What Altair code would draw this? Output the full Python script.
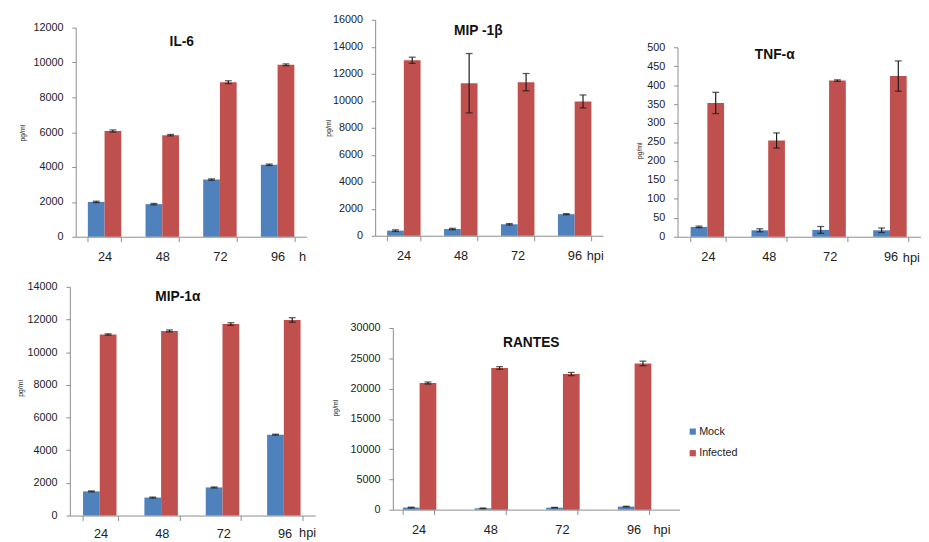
import altair as alt
import pandas as pd

TIMES = ["24", "48", "72", "96"]
GROUPS = ["Mock", "Infected"]
COLORS = ["#4F81BD", "#C0504D"]

# IL-6
il6_mock = [2000, 1870, 3280, 4130]
il6_mock_err = [40, 40, 40, 40]
il6_inf = [6070, 5830, 8870, 9870]
il6_inf_err = [60, 40, 80, 50]
# MIP-1beta
mip1b_mock = [380, 500, 850, 1600]
mip1b_mock_err = [60, 50, 50, 40]
mip1b_inf = [13000, 11300, 11380, 9950]
mip1b_inf_err = [230, 2200, 640, 480]
# TNF-alpha
tnf_mock = [26, 17, 18, 17]
tnf_mock_err = [2, 4, 9, 6]
tnf_inf = [353, 254, 412, 424]
tnf_inf_err = [28, 20, 2, 40]
# MIP-1alpha
mip1a_mock = [1480, 1100, 1720, 4950]
mip1a_mock_err = [30, 30, 30, 30]
mip1a_inf = [11080, 11300, 11720, 11970]
mip1a_inf_err = [40, 60, 80, 140]
# RANTES
rantes_mock = [350, 220, 330, 500]
rantes_mock_err = [60, 40, 50, 60]
rantes_inf = [20920, 23400, 22400, 24150]
rantes_inf_err = [170, 220, 260, 380]

FONT = "Liberation Sans"


def make_df(mock, mock_err, inf, inf_err):
    rows = []
    for i, t in enumerate(TIMES):
        rows.append(dict(time=t, group="Mock", value=mock[i],
                         lo=mock[i] - mock_err[i], hi=mock[i] + mock_err[i]))
        rows.append(dict(time=t, group="Infected", value=inf[i],
                         lo=inf[i] - inf_err[i], hi=inf[i] + inf_err[i]))
    return pd.DataFrame(rows)


def spacer(w, h):
    return alt.Chart(pd.DataFrame({"s": [0]})).mark_point(opacity=0, size=0).encode(
        x=alt.value(0), y=alt.value(0)
    ).properties(width=w, height=h)


LEGEND = alt.Legend(orient="none", legendX=692, legendY=421, symbolType="square",
                    symbolSize=40, symbolStrokeWidth=0, labelFont=FONT,
                    labelFontSize=11, labelColor="#222", rowPadding=10,
                    labelOffset=1, padding=0)


def panel(name, df, ymax, ystep, w, h, xscale, title_xy, ytitle_xy, suffix,
          suffix_xy, xlabel_pad):
    x_axis = alt.Axis(
        title=suffix, titleX=suffix_xy[0], titleY=suffix_xy[1], titleAlign="left",
        titleBaseline="middle", titleFontSize=13, titleFontWeight="normal",
        titleFont=FONT, titleColor="#222",
        labelAngle=0, labelFontSize=13, labelFont=FONT, labelColor="#222",
        labelPadding=xlabel_pad, tickBand="extent", tickSize=5,
        domainColor="#8c8c8c", tickColor="#8c8c8c",
    )
    y_axis = alt.Axis(
        values=list(range(0, ymax + 1, ystep)), format="d", grid=False,
        labelFontSize=11, labelFont=FONT, labelColor="#222", labelPadding=9,
        tickSize=4, domainColor="#8c8c8c", tickColor="#8c8c8c",
        title="pg/ml", titleFontSize=7, titleFont=FONT, titleFontWeight="normal",
        titleColor="#222", titleX=ytitle_xy[0], titleY=ytitle_xy[1],
        titleAngle=270, titleAlign="center", titleBaseline="middle",
    )
    y_scale = alt.Scale(domain=[0, ymax], nice=False, padding=0)
    base = alt.Chart(df).encode(
        x=alt.X("time:N", sort=TIMES, axis=x_axis, scale=xscale),
        xOffset=alt.XOffset("group:N", sort=GROUPS,
                            scale=alt.Scale(paddingInner=0, paddingOuter=0)),
    )
    bars = base.mark_bar().encode(
        y=alt.Y("value:Q", scale=y_scale, axis=y_axis),
        color=alt.Color("group:N", scale=alt.Scale(domain=GROUPS, range=COLORS),
                        title=None, legend=LEGEND),
    )
    rule = base.mark_rule(color="#1a1a1a", strokeWidth=1.2).encode(
        y=alt.Y("lo:Q", scale=y_scale, axis=y_axis), y2="hi:Q")
    cap_lo = base.mark_tick(color="#1a1a1a", thickness=1.3, size=7).encode(
        y=alt.Y("lo:Q", scale=y_scale, axis=y_axis))
    cap_hi = base.mark_tick(color="#1a1a1a", thickness=1.3, size=7).encode(
        y=alt.Y("hi:Q", scale=y_scale, axis=y_axis))
    title = alt.Chart(pd.DataFrame({"name": [name]})).mark_text(
        font=FONT, fontSize=14, fontWeight="bold", color="#111",
        align="center", baseline="middle",
    ).encode(x=alt.value(title_xy[0]), y=alt.value(title_xy[1]), text="name:N")
    return alt.layer(bars, rule, cap_lo, cap_hi, title).properties(width=w, height=h)


def band(p):
    return alt.Scale(paddingInner=p, paddingOuter=p / 2)


p1 = panel("IL-6", make_df(il6_mock, il6_mock_err, il6_inf, il6_inf_err),
           12000, 2000, 235, 213, band(0.42), (108, 15), (-54, 107), "h", (227, 20), 9)
p2 = panel("MIP -1β", make_df(mip1b_mock, mip1b_mock_err, mip1b_inf, mip1b_inf_err),
           16000, 2000, 232, 220, band(0.42), (105, 11), (-47, 110), "hpi", (215, 20), 9)
p3 = panel("TNF-α", make_df(tnf_mock, tnf_mock_err, tnf_inf, tnf_inf_err),
           500, 50, 248, 193, band(0.43), (99, 8), (-39, 105), "hpi", (229, 21), 9)
p4 = panel("MIP-1α", make_df(mip1a_mock, mip1a_mock_err, mip1a_inf, mip1a_inf_err),
           14000, 2000, 250, 233, band(0.43), (110, 10), (-50, 103), "hpi", (233, 17), 7)
p5 = panel("RANTES", make_df(rantes_mock, rantes_mock_err, rantes_inf, rantes_inf_err),
           30000, 5000, 292, 185,
           alt.Scale(paddingInner=0.56, paddingOuter=0.28, align=0.25),
           (141, 15), (-58, 81), "hpi", (265, 20), 9)

top_row = alt.hconcat(
    spacer(11, 1),
    alt.vconcat(spacer(1, 2), p1, spacing=0),
    spacer(19, 1),
    p2,
    spacer(32, 1),
    alt.vconcat(spacer(1, 22), p3, spacing=0),
    spacing=0,
)
bottom_row = alt.hconcat(
    spacer(9, 1),
    alt.vconcat(spacer(1, 17), p4, spacing=0),
    spacer(16, 1),
    alt.vconcat(spacer(1, 59), p5, spacing=0),
    spacing=0,
)
chart = alt.vconcat(
    spacer(1, 1), top_row, bottom_row, spacing=0
).properties(padding=0, background="white").configure_view(stroke=None)

chart.save("out.html", embed_options={"renderer": "svg", "actions": False})
